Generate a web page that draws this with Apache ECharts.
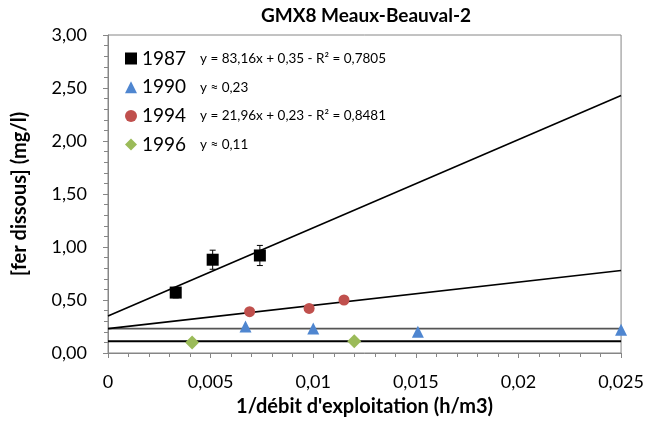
<!DOCTYPE html>
<html>
<head>
<meta charset="utf-8">
<script src="https://cdn.jsdelivr.net/npm/echarts@6/dist/echarts.min.js"></script>
<style>
  html, body { margin: 0; padding: 0; background: #fff; }
  #chart { width: 647px; height: 426px; }
</style>
</head>
<body>
<div id="chart"></div>
<script>
// Dissolved iron vs. 1/pumping rate, well GMX8 Meaux-Beauval-2
const chartTitle = 'GMX8 Meaux-Beauval-2';
const years = ['1987', '1990', '1994', '1996'];

// measured points: [1/débit, fer dissous]
const pts1987 = [[0.0033, 0.57], [0.0051, 0.88], [0.0074, 0.92]];
const err1987 = [0.05, 0.09, 0.095];
const pts1990 = [[0.0067, 0.25], [0.0100, 0.23], [0.0151, 0.20], [0.0250, 0.22]];
const pts1994 = [[0.0069, 0.39], [0.0098, 0.42], [0.0115, 0.50]];
const pts1996 = [[0.0041, 0.10], [0.0120, 0.11]];

// fitted trends: slope, intercept, R² (null = constant mean)
const slopes = [83.16, 0, 21.96, 0];
const intercepts = [0.35, 0.23, 0.23, 0.11];
const r2 = [0.7805, null, 0.8481, null];

const xTicks = [0, 0.005, 0.01, 0.015, 0.02, 0.025];
const yTicks = [0, 0.5, 1, 1.5, 2, 2.5, 3];

const FONT = 'Lato, "Open Sans", sans-serif';
const colors = ['#000000', '#4f86d0', '#c0504d', '#9bbb59'];
const symbols = ['rect', 'triangle', 'circle', 'diamond'];
const symSizes = [12, 12, 11, 14];
const pointSets = [pts1987, pts1990, pts1994, pts1996];

const fr = (v, d) => v.toFixed(d).replace('.', ',');
function equation(i) {
  if (r2[i] === null) return 'y \u2248 ' + fr(intercepts[i], 2);
  return 'y = ' + fr(slopes[i], 2) + 'x + ' + fr(intercepts[i], 2) + ' - R\u00B2 = ' + fr(r2[i], 4);
}

const xMin = xTicks[0], xMax = xTicks[xTicks.length - 1];

const series = [];
// trend lines (drawn under the markers)
years.forEach((y, i) => {
  series.push({
    name: 'trend ' + y,
    type: 'line',
    data: [[xMin, intercepts[i]], [xMax, intercepts[i] + slopes[i] * xMax]],
    symbol: 'none',
    silent: true,
    z: 1,
    lineStyle: { color: i === 1 ? '#555' : '#000', width: i === 3 ? 2 : 1.6 }
  });
});
// error bars for 1987
series.push({
  name: 'err 1987',
  type: 'custom',
  z: 2,
  data: pts1987.map((p, k) => [p[0], p[1], err1987[k]]),
  renderItem: function (params, api) {
    const x = api.value(0), y = api.value(1), e = api.value(2);
    const top = api.coord([x, y + e]);
    const bot = api.coord([x, y - e]);
    const st = { stroke: '#000', lineWidth: 1 };
    return {
      type: 'group',
      children: [
        { type: 'line', shape: { x1: top[0], y1: top[1], x2: bot[0], y2: bot[1] }, style: st },
        { type: 'line', shape: { x1: top[0] - 3, y1: top[1], x2: top[0] + 3, y2: top[1] }, style: st },
        { type: 'line', shape: { x1: bot[0] - 3, y1: bot[1], x2: bot[0] + 3, y2: bot[1] }, style: st }
      ]
    };
  }
});
// measured points
years.forEach((y, i) => {
  series.push({
    name: y,
    type: 'scatter',
    data: pointSets[i],
    symbol: symbols[i],
    symbolSize: symSizes[i],
    z: 3,
    itemStyle: { color: colors[i], opacity: 1 }
  });
});

const axisGray = '#868686';
const option = {
  animation: false,
  backgroundColor: '#fff',
  textStyle: { fontFamily: FONT },
  graphic: [{
    type: 'text',
    x: 366, y: 16,
    style: {
      text: chartTitle,
      align: 'center', verticalAlign: 'middle',
      fontFamily: FONT, fontSize: 19, fontWeight: 'bold', fill: '#000'
    }
  }],
  grid: {
    left: 108, right: 24, top: 35, bottom: 73,
    show: true, borderColor: axisGray, borderWidth: 1
  },
  legend: {
    data: years,
    orient: 'vertical',
    left: 120, top: 44,
    itemWidth: 12, itemHeight: 12,
    itemGap: 9.7,
    formatter: function (name) {
      const i = years.indexOf(name);
      return '{y|' + name + '}{e|' + equation(i) + '}';
    },
    textStyle: {
      fontFamily: FONT,
      rich: {
        y: { fontSize: 19, color: '#000', width: 58, fontFamily: FONT, lineHeight: 20 },
        e: { fontSize: 13.5, color: '#000', fontFamily: FONT, lineHeight: 20 }
      }
    }
  },
  xAxis: {
    type: 'value',
    min: xMin, max: xMax, interval: xTicks[1] - xTicks[0],
    name: "1/débit d'exploitation (h/m3)",
    nameLocation: 'middle', nameGap: 44,
    nameTextStyle: { fontFamily: FONT, fontSize: 20, fontWeight: 'bold', color: '#000' },
    axisLine: { show: true, lineStyle: { color: axisGray } },
    axisTick: { show: true, length: 5, lineStyle: { color: axisGray } },
    minorTick: { show: true, splitNumber: 5, length: 4, lineStyle: { color: axisGray } },
    splitLine: { show: false },
    axisLabel: {
      fontFamily: FONT, fontSize: 18, color: '#000', margin: 20,
      formatter: v => v === 0 ? '0' : String(+v.toFixed(3)).replace('.', ',')
    }
  },
  yAxis: {
    type: 'value',
    min: yTicks[0], max: yTicks[yTicks.length - 1], interval: yTicks[1] - yTicks[0],
    name: '[fer dissous] (mg/l)',
    nameLocation: 'middle', nameGap: 78,
    nameTextStyle: { fontFamily: FONT, fontSize: 20, fontWeight: 'bold', color: '#000' },
    axisLine: { show: true, lineStyle: { color: axisGray } },
    axisTick: { show: true, length: 5, lineStyle: { color: axisGray } },
    minorTick: { show: true, splitNumber: 5, length: 4, lineStyle: { color: axisGray } },
    splitLine: { show: false },
    axisLabel: {
      fontFamily: FONT, fontSize: 18, color: '#000', margin: 21,
      formatter: v => fr(v, 2)
    }
  },
  series: series
};

const chart = echarts.init(document.getElementById('chart'), null, { renderer: 'canvas' });
chart.setOption(option);
</script>
</body>
</html>
